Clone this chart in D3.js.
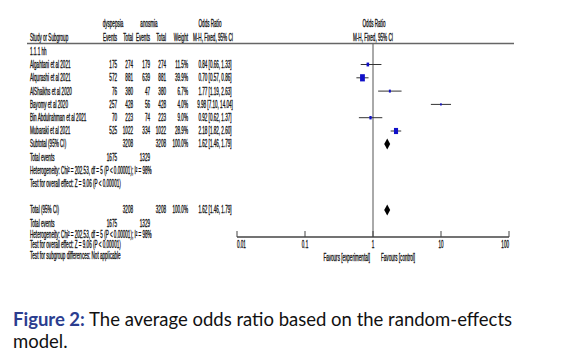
<!DOCTYPE html>
<html><head><meta charset="utf-8">
<script src="https://cdn.jsdelivr.net/npm/d3@7"></script>
<style>
body{margin:0;background:#fff;}
svg{display:block;}
</style>
</head><body>
<svg id="c" width="562" height="357"></svg>
<script>
// ---- data ----
const studies = ["Algahtani et al 2021","Alqurashi et al 2021","AlShaikhs et al 2020","Bayomy et al 2020","Bin Abdulrahman et al 2021","Mubaraki et al 2021"];
const expEvents = [175,572,76,257,70,525];
const expTotal = [274,881,380,428,223,1022];
const ctlEvents = [179,639,47,56,74,334];
const ctlTotal = [274,881,380,428,223,1022];
const weights = [11.5,39.9,6.7,4.0,9.0,28.9];
const orVal = [0.84,0.70,1.77,9.98,0.92,2.18];
const ciLow = [0.66,0.57,1.19,7.10,0.62,1.82];
const ciHigh = [1.33,0.86,2.63,14.04,1.37,2.60];
const pooled = {or:1.62, lo:1.46, hi:1.79, expTotal:3208, ctlTotal:3208, expEvents:1675, ctlEvents:1329, weight:"100.0%"};
const axisTicks = [0.01,0.1,1,10,100];
const tickLabels = ["0.01","0.1","1","10","100"];
const hetText = "Heterogeneity: Chi\u00b2 = 202.53, df = 5 (P < 0.00001); I\u00b2 = 98%";
const effText = "Test for overall effect: Z = 9.06 (P < 0.00001)";
const subgroupText = "Test for subgroup differences: Not applicable";

// ---- layout ----
const svg = d3.select("#c");
const FS = 10;
const SX = 0.56*8.2/FS;           // horizontal compression of text
const tg = svg.append("g").attr("transform", `scale(${SX},1)`)
  .attr("font-family","Liberation Sans, Arial, sans-serif").attr("font-size",FS).attr("fill","#111")
  .attr("stroke","#111").attr("stroke-width",0.35);
function txt(x,y,s,anchor="start",weight="normal"){
  tg.append("text").attr("x",x/SX).attr("y",y).attr("text-anchor",anchor).attr("font-weight",weight).text(s);
}
const xScale = d3.scaleLog().domain([0.01,100]).range([237,509]);

// column right edges
const cE1=117, cT1=133, cE2=150, cT2=166, cW=188, cOR=215;
// headers
txt(113,27,"dyspepsia","middle");
txt(149,27,"anosmia","middle");
txt(210,27,"Odds Ratio","middle");
txt(374,27,"Odds Ratio","middle");
txt(30,41,"Study or Subgroup");
txt(cE1,41,"Events","end");
txt(cT1,41,"Total","end");
txt(cE2,41,"Events","end");
txt(cT2,41,"Total","end");
txt(cW,41,"Weight","end");
txt(213,41,"M-H, Fixed, 95% CI","middle");
txt(373,41,"M-H, Fixed, 95% CI","middle");
svg.append("line").attr("x1",27).attr("x2",514).attr("y1",43.5).attr("y2",43.5).attr("stroke","#666").attr("stroke-width",1.3);

txt(30,55,"1.1.1 hh");
const rowY = studies.map((d,i)=>68+i*13.3);
const fmt2 = d3.format(".2f");
studies.forEach((s,i)=>{
  const y=rowY[i];
  txt(30,y,s);
  txt(cE1,y,expEvents[i],"end");
  txt(cT1,y,expTotal[i],"end");
  txt(cE2,y,ctlEvents[i],"end");
  txt(cT2,y,ctlTotal[i],"end");
  txt(cW,y,weights[i].toFixed(1)+"%","end");
  txt(cOR,y,`${fmt2(orVal[i])} [${fmt2(ciLow[i])}, ${fmt2(ciHigh[i])}]`,"middle");
});
const subY = 147.5;
txt(30,subY,"Subtotal (95% CI)");
txt(cT1,subY,pooled.expTotal,"end");
txt(cT2,subY,pooled.ctlTotal,"end");
txt(cW,subY,pooled.weight,"end");
txt(cOR,subY,`${fmt2(pooled.or)} [${fmt2(pooled.lo)}, ${fmt2(pooled.hi)}]`,"middle");
txt(30,161,"Total events");
txt(cE1,161,pooled.expEvents,"end");
txt(cE2,161,pooled.ctlEvents,"end");
txt(30,174,hetText);
txt(30,187,effText);

const totY = 213.5;
txt(30,totY,"Total (95% CI)");
txt(cT1,totY,pooled.expTotal,"end");
txt(cT2,totY,pooled.ctlTotal,"end");
txt(cW,totY,pooled.weight,"end");
txt(cOR,totY,`${fmt2(pooled.or)} [${fmt2(pooled.lo)}, ${fmt2(pooled.hi)}]`,"middle");
txt(30,227,"Total events");
txt(cE1,227,pooled.expEvents,"end");
txt(cE2,227,pooled.ctlEvents,"end");
txt(30,238,hetText);
txt(30,248.5,effText);
txt(30,259,subgroupText);

// ---- plot ----
const axisY = 237;
svg.append("line").attr("x1",xScale(1)).attr("x2",xScale(1)).attr("y1",44).attr("y2",axisY)
  .attr("stroke","#555").attr("stroke-width",1);
// CI lines and squares
const wMax = d3.max(weights);
studies.forEach((s,i)=>{
  const y=rowY[i]-3.5;
  svg.append("line").attr("x1",xScale(ciLow[i])).attr("x2",xScale(ciHigh[i])).attr("y1",y).attr("y2",y)
    .attr("stroke","#333").attr("stroke-width",1);
  const w = 4.8*Math.sqrt(weights[i]/wMax);
  const h = w*1.5;
  svg.append("rect").attr("x",xScale(orVal[i])-w/2).attr("y",y-h/2).attr("width",w).attr("height",h)
    .attr("fill","#1010c8");
});
function diamond(yc){
  const cx=xScale(pooled.or), l=xScale(pooled.lo), r=xScale(pooled.hi);
  svg.append("path").attr("d",`M${l},${yc} L${cx},${yc-5.5} L${r},${yc} L${cx},${yc+5.5} Z`).attr("fill","#000");
}
diamond(subY-3.5);
diamond(totY-3.5);

// axis
const axisG = svg.append("g").attr("transform",`translate(0,${axisY})`);
axisG.append("line").attr("x1",xScale(0.01)).attr("x2",xScale(100)).attr("stroke","#444").attr("stroke-width",1.3);
axisTicks.forEach((t,i)=>{
  axisG.append("line").attr("x1",xScale(t)).attr("x2",xScale(t)).attr("y1",-6).attr("y2",0).attr("stroke","#444");
  const anchor = i===0?"start":(i===axisTicks.length-1?"end":"middle");
  txt(xScale(t), axisY+11, tickLabels[i], anchor);
});
txt(370,axisY+24,"Favours [experimental]","end");
txt(381,axisY+24,"Favours [control]","start");

// caption
const capFont = "Lato, 'Open Sans', sans-serif";
const cap = svg.append("text").attr("x",13).attr("y",326).attr("font-family",capFont).attr("font-size",18.5).attr("fill","#111");
cap.append("tspan").attr("font-weight","bold").attr("fill","#2b3d8f").text("Figure 2:");
cap.append("tspan").text(" The average odds ratio based on the random-effects");
svg.append("text").attr("x",13).attr("y",348).attr("font-family",capFont).attr("font-size",18.5).attr("fill","#111").text("model.");
</script>
</body></html>
